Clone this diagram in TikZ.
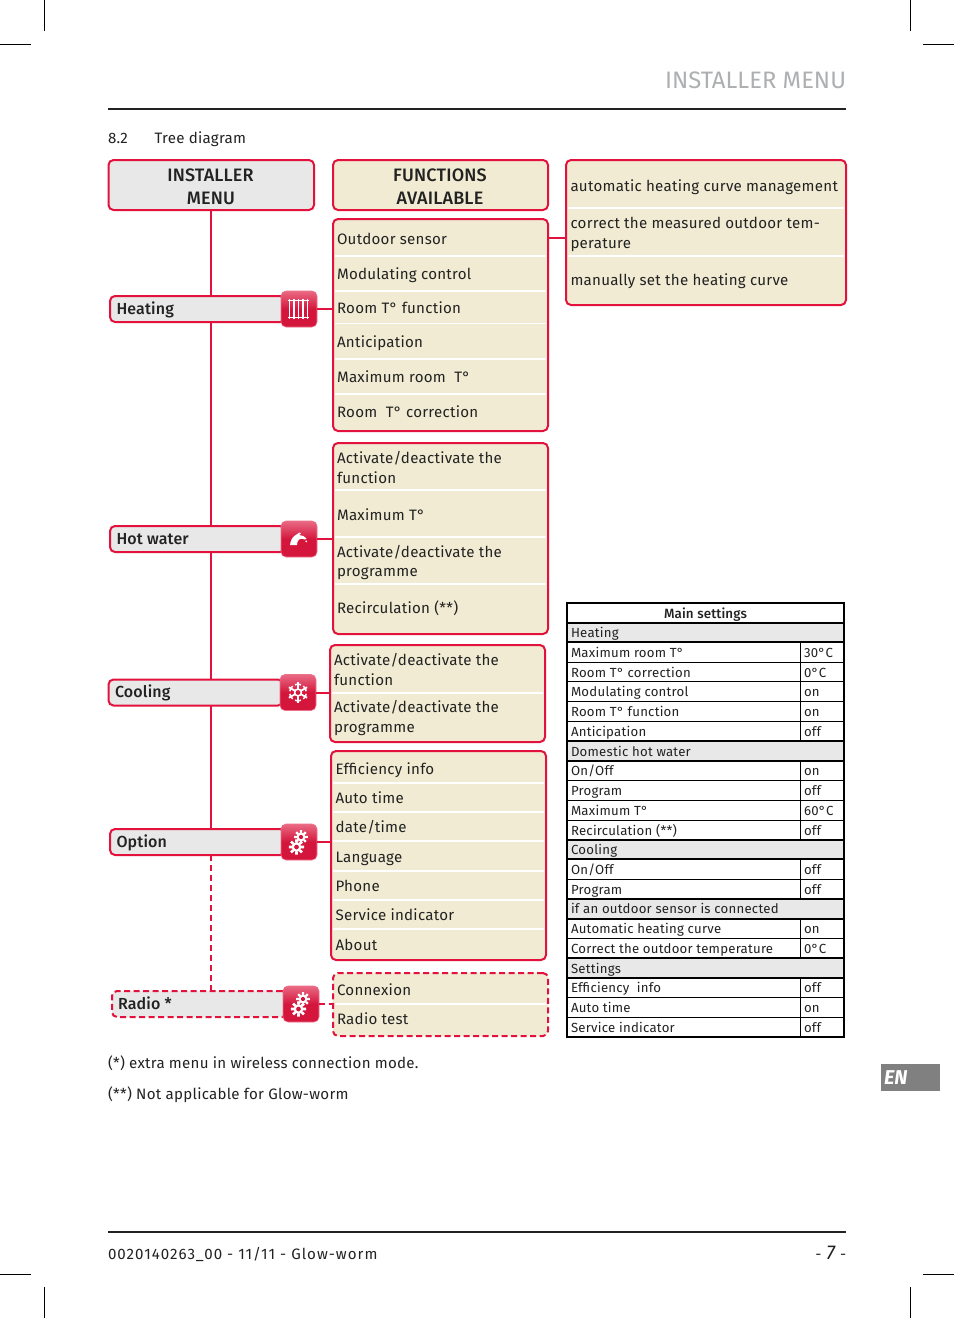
\documentclass[tikz,border=0pt]{standalone}
\usepackage{fontspec}
\setmainfont{Fira Sans}[LetterSpace=1.8]
\newfontfamily\plainsans{Fira Sans}
\newfontfamily\headsans{Fira Sans Medium}[LetterSpace=1.0]
\usetikzlibrary{calc}
\definecolor{rd}{HTML}{E3123C}
\definecolor{rdlight}{HTML}{E96A84}
\definecolor{rddark}{HTML}{D4163C}
\definecolor{cream}{HTML}{F0EBD2}
\definecolor{lgray}{HTML}{E8E8E8}
\definecolor{ink}{HTML}{222222}
\definecolor{hdrgray}{HTML}{ADAFB1}
\definecolor{engray}{HTML}{808080}
\tikzset{
  x=1pt,y=-1pt,
  every node/.style={inner sep=0pt,outer sep=0pt,text=ink},
  panelbox/.style={draw=rd,line width=2pt,rounded corners=5pt,fill=cream},
  menubox/.style={draw=rd,line width=2pt,rounded corners=5pt,fill=lgray},
  dashbox/.style={dash pattern=on 6pt off 3.5pt},
  sepline/.style={white,line width=1.8pt},
  link/.style={draw=rd,line width=2pt},
  dashlink/.style={draw=rd,line width=2pt,dash pattern=on 6pt off 4pt},
  iconbox/.style={draw=rd!60!white,line width=.6pt,rounded corners=5pt,top color=rdlight,bottom color=rddark,middle color=rddark,minimum width=36pt,minimum height=36pt},
  rowtext/.style={anchor=base west,font=\fontsize{15.1}{18}\selectfont},
  headtext/.style={anchor=base,font=\headsans\fontsize{18}{20}\selectfont},
  tabletext/.style={anchor=base west,font=\fontsize{13.2}{15}\selectfont},
  tablehead/.style={anchor=base,font=\headsans\fontsize{13.4}{15}\selectfont},
  cropline/.style={black,line width=.7pt},
  thinrule/.style={black,line width=1pt},
  thickrule/.style={black,line width=2pt},
}
% name, x1, y1, x2, y2, style
\newcommand{\bx}[6]{\node[#6,minimum width=#4pt-#2pt,minimum height=#5pt-#3pt] (#1) at ({(#2+#4)/2},{(#3+#5)/2}) {};}
\newcommand{\secrow}[2]{%
  \fill[lgray] (567,{603+19.727*#1}) rectangle (844,{603+19.727*(#1+1)});
  \node[tabletext] (sec#1) at (571,{603+19.727*#1+15}) {#2};
  \draw[thickrule] (567,{603+19.727*#1}) -- (844,{603+19.727*#1});
  \draw[thickrule] (567,{603+19.727*(#1+1)}) -- (844,{603+19.727*(#1+1)});
}
\newcommand{\valrow}[3]{%
  \node[tabletext] (lab#1) at (571,{603+19.727*#1+15}) {#2};
  \node[tabletext] (val#1) at (804,{603+19.727*#1+15}) {#3};
  \draw[thinrule] (567,{603+19.727*(#1+1)}) -- (844,{603+19.727*(#1+1)});
  \draw[thinrule] (800.5,{603+19.727*#1}) -- (800.5,{603+19.727*(#1+1)});
}
\newcommand{\gearicon}[3]{%
  \foreach \a in {0,45,...,315}{\fill[white] ($(#1,#2)+(\a:#3*.62)$) ++(\a:#3*.62) -- ++(\a+90:#3*.22) -- ++(\a+180:#3*.5) -- ++(\a+270:#3*.44) -- ++(\a:#3*.5) -- cycle;}
  \fill[white] (#1,#2) circle ({#3*.8});
  \fill[rddark] (#1,#2) circle ({#3*.38});
}
\begin{document}
\begin{tikzpicture}
\useasboundingbox (0,0) rectangle (954,1318);
\fill[white] (0,0) rectangle (954,1318);
% crop marks
\draw[cropline] (44,0)--(44,31) (0,44)--(31,44) (910,0)--(910,31) (923,44)--(954,44);
\draw[cropline] (44,1287)--(44,1318) (0,1274)--(31,1274) (910,1287)--(910,1318) (923,1274)--(954,1274);
% page furniture
\node[anchor=base east,font=\plainsans\fontsize{23.8}{28}\selectfont,text=hdrgray] (title) at (846,88.5) {INSTALLER MENU};
\draw[line width=2pt,ink] (108,109)--(846,109);
\node[rowtext] (secnum) at (108,143) {8.2};
\node[rowtext] (sectitle) at (154.5,143) {Tree diagram};
\draw[line width=2pt,ink] (108,1232)--(846,1232);
\node[rowtext,font=\fontsize{15.1}{18}\addfontfeature{LetterSpace=6.8}] (foot) at (108,1259) {0020140263\_00 - 11/11 - Glow-worm};
\node[anchor=base east,font=\plainsans\fontsize{15}{18}\itshape] (pageno) at (846,1259) {-\hspace{5pt}\fontsize{20}{20}\selectfont 7\fontsize{15}{18}\selectfont\hspace{5pt}-};
\node[fill=engray,minimum width=59pt,minimum height=27pt] (enbox) at (910.5,1077.5) {};
\node[anchor=base west,text=white,font=\plainsans\fontsize{20}{22}\bfseries\itshape] (entext) at (884,1084) {EN};
\node[rowtext] (note1) at (108,1068) {(*) extra menu in wireless connection mode.};
\node[rowtext] (note2) at (108,1099) {(**) Not applicable for Glow-worm};

% boxes
\bx{inst}{108.5}{160}{314}{210}{menubox}
\bx{func}{333}{160}{548}{210}{panelbox}
\bx{auto}{566}{160}{846}{305}{panelbox}
\bx{fheat}{333}{219}{548}{431}{panelbox}
\bx{fwater}{333}{443}{548}{634}{panelbox}
\bx{fcool}{330}{645}{545}{742}{panelbox}
\bx{fopt}{331}{751}{546}{960}{panelbox}
\bx{fradio}{333}{973}{548}{1036}{panelbox,dashbox}
% bars
\bx{mheat}{110}{296}{285}{322}{menubox}
\bx{mwater}{110}{526}{285}{552}{menubox}
\bx{mcool}{108.5}{679.5}{283}{705.5}{menubox}
\bx{mopt}{110}{829}{285}{855}{menubox}
\bx{mradio}{112}{991}{287}{1017}{menubox,dashbox}
% icons
\node[iconbox] (iheat) at (299,309) {};
\node[iconbox] (iwater) at (299,539) {};
\node[iconbox] (icool) at (298,692.5) {};
\node[iconbox] (iopt) at (299,842) {};
\node[iconbox] (iradio) at (301,1004) {};
% separators
\foreach \y in {256,291,323.5,359,394} \draw[sepline] (335,\y)--(546,\y);
\foreach \y in {490,537,584} \draw[sepline] (335,\y)--(546,\y);
\draw[sepline] (332,693)--(543,693);
\foreach \y in {783,812,841,871,900,929} \draw[sepline] (333,\y)--(544,\y);
\draw[sepline] (335,1004)--(546,1004);
\foreach \y in {208,256} \draw[sepline] (568,\y)--(844,\y);

% texts
\node[headtext] (t1) at (210.5,181) {INSTALLER};
\node[headtext] (t2) at (211,204) {MENU};
\node[headtext] (t3) at (440,181) {FUNCTIONS};
\node[headtext] (t4) at (440,204) {AVAILABLE};
\node[rowtext] (a1) at (570.5,191) {automatic heating curve management};
\node[rowtext] (a2) at (570.5,228) {correct the measured outdoor tem-};
\node[rowtext] (a3) at (570.5,248) {perature};
\node[rowtext] (a4) at (570.5,285) {manually set the heating curve};
\node[rowtext] (h1) at (337,244) {Outdoor sensor};
\node[rowtext] (h2) at (337,279) {Modulating control};
\node[rowtext] (h3) at (337,313) {Room T° function};
\node[rowtext] (h4) at (337,347) {Anticipation};
\node[rowtext] (h5) at (337,382) {Maximum room~ T°};
\node[rowtext] (h6) at (337,417) {Room~ T° correction};
\node[rowtext] (w1) at (337,463) {Activate/deactivate the};
\node[rowtext] (w2) at (337,483) {function};
\node[rowtext] (w3) at (337,520) {Maximum T°};
\node[rowtext] (w4) at (337,557) {Activate/deactivate the};
\node[rowtext] (w5) at (337,576) {programme};
\node[rowtext] (w6) at (337,613) {Recirculation (**)};
\node[rowtext] (c1) at (334,665) {Activate/deactivate the};
\node[rowtext] (c2) at (334,685) {function};
\node[rowtext] (c3) at (334,712) {Activate/deactivate the};
\node[rowtext] (c4) at (334,732) {programme};
\node[rowtext] (o1) at (335.5,774) {Efficiency info};
\node[rowtext] (o2) at (335.5,803) {Auto time};
\node[rowtext] (o3) at (335.5,832) {date/time};
\node[rowtext] (o4) at (335.5,862) {Language};
\node[rowtext] (o5) at (335.5,891) {Phone};
\node[rowtext] (o6) at (335.5,920) {Service indicator};
\node[rowtext] (o7) at (335.5,950) {About};
\node[rowtext] (r1) at (337,995) {Connexion};
\node[rowtext] (r2) at (337,1024) {Radio test};
\node[rowtext,font=\headsans\fontsize{16}{18}\selectfont] (b1) at (116.5,314) {Heating};
\node[rowtext,font=\headsans\fontsize{16}{18}\selectfont] (b2) at (116.5,544) {Hot water};
\node[rowtext,font=\headsans\fontsize{16}{18}\selectfont] (b3) at (115,697) {Cooling};
\node[rowtext,font=\headsans\fontsize{16}{18}\selectfont] (b4) at (116.5,847) {Option};
\node[rowtext,font=\headsans\fontsize{16}{18}\selectfont] (b5) at (118,1009) {Radio *};

% connectors
\draw[link] (inst.south) -- (inst.south |- mheat.north);
\draw[link] (inst.south |- mheat.south) -- (inst.south |- mwater.north);
\draw[link] (inst.south |- mwater.south) -- (inst.south |- mcool.north);
\draw[link] (inst.south |- mcool.south) -- (inst.south |- mopt.north);
\draw[dashlink] (inst.south |- mopt.south) -- (inst.south |- mradio.north);
\draw[link] (iheat.east) -- (fheat.west |- iheat.east);
\draw[link] (iwater.east) -- (fwater.west |- iwater.east);
\draw[link] (icool.east) -- (fcool.west |- icool.east);
\draw[link] (iopt.east) -- (fopt.west |- iopt.east);
\draw[dashlink] (iradio.east) -- (fradio.west |- iradio.east);
\draw[link] (fheat.east |- h1.center) -- (auto.west |- h1.center);

% radiator glyph
\foreach \x in {289.5,294,298.5,303,307.5} \draw[white,line width=1.8pt] (\x,298.5)--(\x,319);
\draw[white,line width=1.2pt] (288,300.5)--(309,300.5) (288,317.5)--(309,317.5);
% tap glyph
\fill[white] (290,545) .. controls (290.5,541) and (292,537.5) .. (295,535.5) -- (299.5,532.5) -- (301,533.5) -- (299,535) .. controls (302,535) and (305,536.5) .. (306.5,538.5) -- (305,539.5) .. controls (303,538.5) and (300.5,538.5) .. (299,539.5) .. controls (297.5,541) and (297,543) .. (297,545) -- cycle;
\fill[white] (306.3,541.3) circle (1pt);
% snowflake glyph
\foreach \a in {0,60,...,300}{
  \draw[white,line width=1.8pt] ($(icool.center)+(\a+90:3)$) -- ($(icool.center)+(\a+90:10.5)$);
  \draw[white,line width=1.5pt] ($(icool.center)+(\a+90:6)+(\a+150:3.4)$) -- ($(icool.center)+(\a+90:8.5)$) -- ($(icool.center)+(\a+90:6)+(\a+30:3.4)$);
}
\draw[white,line width=1.5pt] (icool.center) circle (3.4);
% gear glyphs
\gearicon{301}{837}{5.5}
\gearicon{296.5}{847}{6.2}
\gearicon{303}{999}{5.5}
\gearicon{298.5}{1009}{6.2}

% table
\node[draw=none,minimum width=277pt,minimum height=434pt] (tbl) at (705.5,820) {};
\node[tablehead] (thead) at (705.5,618) {Main settings};
\secrow{1}{Heating}
\valrow{2}{Maximum room T°}{30°C}
\valrow{3}{Room T° correction}{0°C}
\valrow{4}{Modulating control}{on}
\valrow{5}{Room T° function}{on}
\valrow{6}{Anticipation}{off}
\secrow{7}{Domestic hot water}
\valrow{8}{On/Off}{on}
\valrow{9}{Program}{off}
\valrow{10}{Maximum T°}{60°C}
\valrow{11}{Recirculation (**)}{off}
\secrow{12}{Cooling}
\valrow{13}{On/Off}{off}
\valrow{14}{Program}{off}
\secrow{15}{if an outdoor sensor is connected}
\valrow{16}{Automatic heating curve}{on}
\valrow{17}{Correct the outdoor temperature}{0°C}
\secrow{18}{Settings}
\valrow{19}{Efficiency~ info}{off}
\valrow{20}{Auto time}{on}
\valrow{21}{Service indicator}{off}
\draw[thickrule] (tbl.north west) rectangle (tbl.south east);
\end{tikzpicture}
\end{document}
